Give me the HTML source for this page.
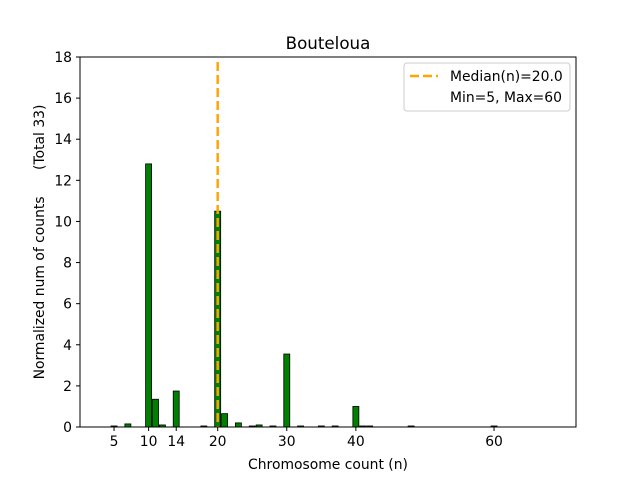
<!DOCTYPE html>
<html><head><meta charset="utf-8"><style>body{margin:0;background:#fff}svg{display:block;font-family:"DejaVu Sans","Liberation Sans",sans-serif}</style></head>
<body>
<svg id="chart" width="640" height="480" xmlns="http://www.w3.org/2000/svg">
<rect width="640" height="480" fill="#fff"/>
<text x="328" y="49" font-size="16.7" text-anchor="middle">Bouteloua</text>
<g id="bars"></g>
<g id="xt"></g><g id="yt"></g>
<line id="med" y1="62" y2="427" stroke="#ffa500" stroke-width="2.5" stroke-dasharray="9,4"/>
<rect x="80" y="57" width="496" height="370" fill="none" stroke="#000" stroke-width="1"/>
<text x="328" y="469" font-size="13.9" text-anchor="middle">Chromosome count (n)</text>
<text transform="translate(44,242) rotate(-90)" font-size="13.9" text-anchor="middle" style="white-space:pre">Normalized num of counts      (Total 33)</text>
<g>
<rect x="404" y="63" width="166" height="48" rx="3" fill="#fff" stroke="#ccc"/>
<line x1="410" y1="76" x2="438" y2="76" stroke="#ffa500" stroke-width="2.5" stroke-dasharray="9,4"/>
<text x="450" y="81" font-size="13.9">Median(n)=20.0</text>
<text x="450" y="102" font-size="13.9">Min=5, Max=60</text>
</g>
</svg>
<script>
const categories=[5,7,10,11,12,14,18,20,21,23,25,26,28,30,32,35,37,40,41,42,48,60];
const values=[0.05,0.15,12.8,1.35,0.1,1.75,0.05,10.5,0.65,0.2,0.05,0.1,0.05,3.55,0.05,0.05,0.05,1.0,0.05,0.05,0.05,0.05];
const xTicks=[5,10,14,20,30,40,60];
const yTicks=[0,2,4,6,8,10,12,14,16,18];
const median=20;
const NS="http://www.w3.org/2000/svg";
const X=v=>79.5+v*6.909, Y=v=>427-v*370/18;
function mk(t,a,p){const e=document.createElementNS(NS,t);for(const k in a)e.setAttribute(k,a[k]);p.appendChild(e);return e;}
const bars=document.getElementById('bars');
categories.forEach((c,i)=>{const r=mk('rect',{x:X(c)-3,y:Y(values[i]),width:6,height:Math.max(427-Y(values[i]),0.5),fill:'#008000',stroke:'#000','stroke-width':0.8},bars);

});
const xt=document.getElementById('xt');
xTicks.forEach(t=>{mk('line',{x1:X(t),x2:X(t),y1:427,y2:431,stroke:'#000'},xt);const s=mk('text',{x:X(t),y:446,'font-size':13.9,'text-anchor':'middle'},xt);s.textContent=t;

});
const yt=document.getElementById('yt');
yTicks.forEach(t=>{mk('line',{x1:76,x2:80,y1:Y(t),y2:Y(t),stroke:'#000'},yt);const s=mk('text',{x:72,y:Y(t)+5,'font-size':13.9,'text-anchor':'end'},yt);s.textContent=t;

});
const m=document.getElementById('med');m.setAttribute('x1',X(median));m.setAttribute('x2',X(median));
</script>
</body></html>
